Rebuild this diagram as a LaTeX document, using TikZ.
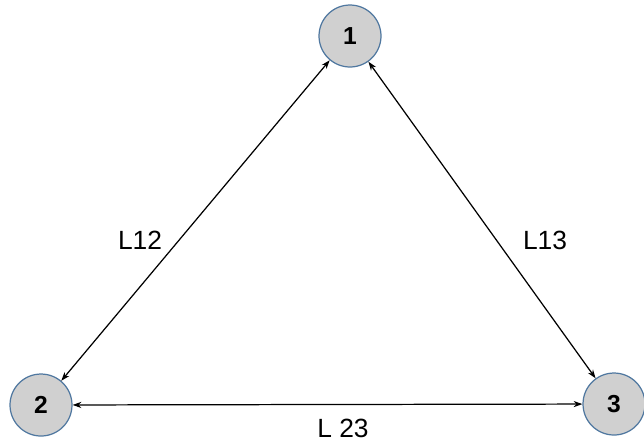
\documentclass[tikz,border=0pt]{standalone}
\usepackage{fontspec}
\setmainfont{Liberation Sans}
\usetikzlibrary{arrows.meta}
\definecolor{nodegray}{RGB}{208,208,208}
\definecolor{nodeblue}{RGB}{80,120,160}

\begin{document}
\begin{tikzpicture}[x=0.02cm,y=-0.02cm,
    station/.style={circle,draw=nodeblue,line width=0.7pt,fill=nodegray,
        minimum size=1.24cm,inner sep=0pt,font=\fontsize{14}{16}\selectfont\bfseries},
    link/.style={line width=0.7pt,{Stealth[length=5pt,width=3.5pt]}-{Stealth[length=5pt,width=3.5pt]}},
    linklabel/.style={font=\fontsize{15}{17}\selectfont}]
    \useasboundingbox (0,0) rectangle (644,444);

    % Stations
    \node[station] (n1) at (350,36)  {1};
    \node[station] (n2) at (41,405)  {2};
    \node[station] (n3) at (614,404) {3};

    % Links
    \draw[link] (n1) -- (n2);
    \draw[link] (n1) -- (n3);
    \draw[link] (n2) -- (n3);

    % Labels
    \node[linklabel] (l12) at (140,240) {L12};
    \node[linklabel] (l13) at (545,240) {L13};
    \node[linklabel] (l23) at (343,428) {L 23};
\end{tikzpicture}
\end{document}
